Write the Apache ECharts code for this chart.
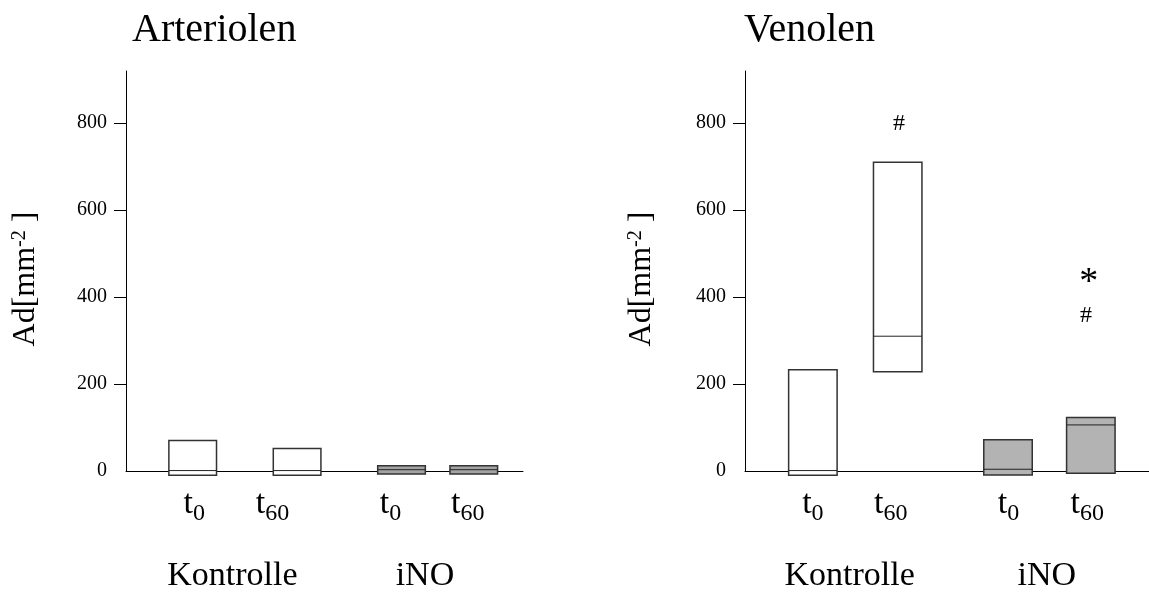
<!DOCTYPE html>
<html>
<head>
<meta charset="utf-8">
<script src="https://cdn.jsdelivr.net/npm/echarts@6/dist/echarts.min.js"></script>
<style>html,body{margin:0;padding:0;background:#fff;}#c{width:1149px;height:594px;}</style>
</head>
<body>
<div id="c"></div>
<script>
// ---- data ----
const panelTitles = ['Arteriolen', 'Venolen'];
const groupOfBox = [0, 0, 1, 1];            // 0 = Kontrolle, 1 = iNO
const groupNames = ['Kontrolle', 'iNO'];
const timeLabels = ['0', '60', '0', '60'];  // subscripts of t
const yTicks = [0, 200, 400, 600, 800];

// Arteriolen
const artPos  = [16.8, 43.1, 69.4, 87.6];
const artLow  = [-10, -10, -7, -7];
const artMed  = [1, 1, 3, 3];
const artHigh = [70, 52, 12, 12];
const artTimePos  = [17.2, 36.9, 66.6, 86.1];
const artGroupPos = [26.8, 75.3];

// Venolen
const venPos  = [16.8, 37.8, 65.1, 85.6];
const venLow  = [-10, 228, -9, -5];
const venMed  = [1, 310, 4, 106];
const venHigh = [233, 710, 72, 123];
const venTimePos  = [16.8, 36.1, 65.2, 84.7];
const venGroupPos = [25.9, 74.7];

// significance marks (Venolen)
const markText = ['#', '*', '#'];
const markPos  = [38.1, 85.1, 84.4];
const markVal  = [798, 449, 357];

// ---- styles ----
const FONT = 'Liberation Serif';
const fills = [['#ffffff', '#a3a3a3'], ['#ffffff', '#b3b3b3']];
const HALF = 6;

function boxSeries(idx, pos, low, med, high) {
  return {
    type: 'custom', xAxisIndex: idx, yAxisIndex: idx, clip: false, silent: true,
    data: pos.map((p, i) => [p, low[i], med[i], high[i]]),
    renderItem: function (params, api) {
      const x = api.value(0), lo = api.value(1), md = api.value(2), hi = api.value(3);
      const a = api.coord([x - HALF, hi]);
      const b = api.coord([x + HALF, lo]);
      const m1 = api.coord([x - HALF, md]);
      const m2 = api.coord([x + HALF, md]);
      return {
        type: 'group',
        children: [
          { type: 'rect', shape: { x: a[0], y: a[1], width: b[0] - a[0], height: b[1] - a[1] },
            style: { fill: fills[idx][groupOfBox[params.dataIndex]], stroke: '#333', lineWidth: 1.5 } },
          { type: 'line', shape: { x1: m1[0], y1: m1[1], x2: m2[0], y2: m2[1] },
            style: { stroke: '#222', lineWidth: 1 } }
        ]
      };
    }
  };
}

function timeLabelSeries(idx, pos) {
  return {
    type: 'custom', xAxisIndex: idx, yAxisIndex: idx, clip: false, silent: true,
    data: pos.map((p, i) => [p, i]),
    renderItem: function (params, api) {
      const c = api.coord([api.value(0), 0]);
      const sub = timeLabels[params.dataIndex];
      const tW = 34 * 0.278, sW = 24 * 0.5 * sub.length;
      const x0 = c[0] - (tW + sW) / 2;
      return {
        type: 'group',
        children: [
          { type: 'text', x: x0, y: c[1] + 33,
            style: { text: 't', align: 'left', verticalAlign: 'middle', fontFamily: FONT, fontSize: 34, fill: '#000' } },
          { type: 'text', x: x0 + tW, y: c[1] + 43,
            style: { text: sub, align: 'left', verticalAlign: 'middle', fontFamily: FONT, fontSize: 24, fill: '#000' } }
        ]
      };
    }
  };
}

function groupLabelSeries(idx, pos) {
  return {
    type: 'custom', xAxisIndex: idx, yAxisIndex: idx, clip: false, silent: true,
    data: pos.map((p, i) => [p, i]),
    renderItem: function (params, api) {
      const c = api.coord([api.value(0), 0]);
      return {
        type: 'text', x: c[0], y: c[1] + 105,
        style: { text: groupNames[params.dataIndex], align: 'center', verticalAlign: 'middle',
                 fontFamily: FONT, fontSize: 34, fill: '#000' }
      };
    }
  };
}

const markSeries = {
  type: 'custom', xAxisIndex: 1, yAxisIndex: 1, clip: false, silent: true,
  data: markPos.map((p, i) => [p, markVal[i]]),
  renderItem: function (params, api) {
    const c = api.coord([api.value(0), api.value(1)]);
    const t = markText[params.dataIndex];
    const star = t === '*';
    return {
      type: 'text', x: c[0], y: c[1] + (star ? 7 : 0),
      style: { text: t, align: 'center', verticalAlign: 'middle',
               fontFamily: FONT, fontSize: star ? 38 : 24, fill: '#000' }
    };
  }
};

function yAxisDef(idx, gap) {
  return {
    type: 'value', gridIndex: idx, min: 0, max: 920, interval: 200,
    name: '{a|Ad[mm}{s|-2}{a| ]}', nameLocation: 'middle', nameRotate: 90, nameGap: gap,
    nameTextStyle: {
      padding: [0, 16, 0, 0],
      rich: {
        a: { fontFamily: FONT, fontSize: 32, color: '#000' },
        s: { fontFamily: FONT, fontSize: 20, color: '#000', verticalAlign: 'top', padding: [0, 0, 8, 0] }
      }
    },
    axisLine: { show: true, lineStyle: { color: '#000', width: 1 } },
    axisTick: { show: true, length: 12, lineStyle: { color: '#000', width: 1 }, customValues: yTicks.filter(v => v > 0) },
    axisLabel: { margin: 19, fontFamily: FONT, fontSize: 20, color: '#000', customValues: yTicks },
    splitLine: { show: false }
  };
}

function xAxisDef(idx) {
  return {
    type: 'value', gridIndex: idx, min: 0, max: 100,
    axisLine: { show: true, onZero: true, lineStyle: { color: '#000', width: 1 } },
    axisTick: { show: false }, axisLabel: { show: false }, splitLine: { show: false }
  };
}

const chart = echarts.init(document.getElementById('c'));
chart.setOption({
  backgroundColor: '#fff',
  animation: false,
  title: [
    { text: panelTitles[0], left: 127, top: 5, textStyle: { fontFamily: FONT, fontSize: 40, fontWeight: 'normal', color: '#000' } },
    { text: panelTitles[1], left: 739, top: 5, textStyle: { fontFamily: FONT, fontSize: 40, fontWeight: 'normal', color: '#000' } }
  ],
  grid: [
    { left: 126, top: 71, width: 397, height: 400 },
    { left: 745, top: 71, width: 404, height: 400 }
  ],
  xAxis: [xAxisDef(0), xAxisDef(1)],
  yAxis: [yAxisDef(0, 84), yAxisDef(1, 87)],
  series: [
    boxSeries(0, artPos, artLow, artMed, artHigh),
    boxSeries(1, venPos, venLow, venMed, venHigh),
    timeLabelSeries(0, artTimePos),
    timeLabelSeries(1, venTimePos),
    groupLabelSeries(0, artGroupPos),
    groupLabelSeries(1, venGroupPos),
    markSeries
  ]
});
</script>
</body>
</html>
